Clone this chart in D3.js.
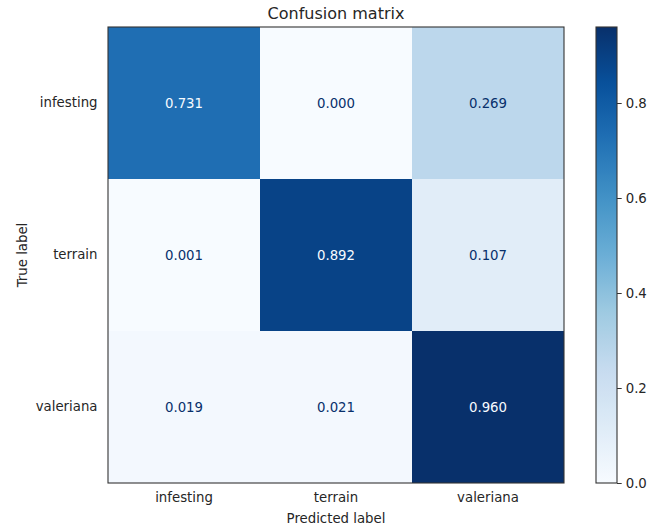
<!DOCTYPE html>
<html>
<head>
<meta charset="utf-8">
<script src="https://cdn.jsdelivr.net/npm/d3@7"></script>
<style>
  html, body { margin: 0; padding: 0; background: #fff; }
  svg { display: block; font-family: "DejaVu Sans", sans-serif; }
</style>
</head>
<body>
<svg id="chart" width="651" height="530"></svg>
<script>
// Class names shared by both axes
const predictedLabels = ["infesting", "terrain", "valeriana"];
const trueLabels = ["infesting", "terrain", "valeriana"];

// Normalized confusion matrix, one row per true class
const rowInfesting = [0.731, 0.000, 0.269];
const rowTerrain = [0.001, 0.892, 0.107];
const rowValeriana = [0.019, 0.021, 0.960];
const matrix = [rowInfesting, rowTerrain, rowValeriana];

// Colour bar tick values
const colorbarTicks = [0.0, 0.2, 0.4, 0.6, 0.8];

// Blues colour map anchors (linear segments)
const bluesAnchors = ["#f7fbff", "#deebf7", "#c6dbef", "#9ecae1", "#6baed6",
                      "#4292c6", "#2171b5", "#08519c", "#08306b"];

const svg = d3.select("#chart");

const plot = { left: 108, top: 27, size: 456 };
const cbar = { left: 596, width: 21 };

const allValues = matrix.flat();
const vmin = d3.min(allValues), vmax = d3.max(allValues);

const blues = d3.scaleLinear()
  .domain(bluesAnchors.map((_, i) => i / (bluesAnchors.length - 1)))
  .range(bluesAnchors)
  .interpolate(d3.interpolateRgb);
const color = v => blues((v - vmin) / (vmax - vmin));

const x = d3.scaleBand().domain(predictedLabels).range([plot.left, plot.left + plot.size]);
const y = d3.scaleBand().domain(trueLabels).range([plot.top, plot.top + plot.size]);

const cells = [];
matrix.forEach((row, i) => row.forEach((v, j) => cells.push({ t: trueLabels[i], p: predictedLabels[j], v })));

// Heatmap cells
svg.append("g").selectAll("rect").data(cells).join("rect")
  .attr("x", d => x(d.p))
  .attr("y", d => y(d.t))
  .attr("width", x.bandwidth())
  .attr("height", y.bandwidth())
  .attr("fill", d => color(d.v));

// Cell annotations: light text on dark cells, dark text on light cells
const threshold = (vmax + vmin) / 2;
svg.append("g").selectAll("text").data(cells).join("text")
  .attr("x", d => x(d.p) + x.bandwidth() / 2)
  .attr("y", d => y(d.t) + y.bandwidth() / 2)
  .attr("text-anchor", "middle")
  .attr("dominant-baseline", "central")
  .attr("font-size", "13.3px")
  .attr("fill", d => d.v > threshold ? bluesAnchors[0] : bluesAnchors[8])
  .text(d => d3.format(".3f")(d.v));

// Frame
svg.append("rect")
  .attr("x", plot.left).attr("y", plot.top)
  .attr("width", plot.size).attr("height", plot.size)
  .attr("fill", "none").attr("stroke", "#333").attr("stroke-width", 1.1);

// Axes
const xAxis = svg.append("g")
  .attr("transform", `translate(0,${plot.top + plot.size})`)
  .call(d3.axisBottom(x).tickSize(0).tickPadding(10));
const yAxis = svg.append("g")
  .attr("transform", `translate(${plot.left},0)`)
  .call(d3.axisLeft(y).tickSize(0).tickPadding(10.5));
[xAxis, yAxis].forEach(g => {
  g.select(".domain").remove();
  g.selectAll("text").attr("font-size", "13.3px").attr("fill", "#262626")
    .attr("font-family", "DejaVu Sans, sans-serif");
});

// Axis titles
svg.append("text")
  .attr("x", plot.left + plot.size / 2).attr("y", 523)
  .attr("text-anchor", "middle").attr("font-size", "13.3px").attr("fill", "#262626")
  .text("Predicted label");
svg.append("text")
  .attr("transform", `translate(27,${plot.top + plot.size / 2}) rotate(-90)`)
  .attr("text-anchor", "middle").attr("font-size", "13.3px").attr("fill", "#262626")
  .text("True label");

// Title
svg.append("text")
  .attr("x", plot.left + plot.size / 2).attr("y", 19)
  .attr("text-anchor", "middle").attr("font-size", "16px").attr("fill", "#262626")
  .text("Confusion matrix");

// Colour bar
const cb = d3.scaleLinear().domain([vmin, vmax]).range([plot.top + plot.size, plot.top]);
const defs = svg.append("defs");
const grad = defs.append("linearGradient").attr("id", "cbGrad")
  .attr("x1", 0).attr("y1", 1).attr("x2", 0).attr("y2", 0);
grad.selectAll("stop").data(d3.range(0, 1.0001, 0.02)).join("stop")
  .attr("offset", d => d)
  .attr("stop-color", d => blues(d));
svg.append("rect")
  .attr("x", cbar.left).attr("y", plot.top)
  .attr("width", cbar.width).attr("height", plot.size)
  .attr("fill", "url(#cbGrad)")
  .attr("stroke", "#333").attr("stroke-width", 1.1);

const cbAxis = svg.append("g")
  .attr("transform", `translate(${cbar.left + cbar.width},0)`)
  .call(d3.axisRight(cb).tickValues(colorbarTicks).tickSize(4.7).tickPadding(4).tickFormat(d3.format(".1f")));
cbAxis.select(".domain").remove();
cbAxis.selectAll("line").attr("stroke", "#333");
cbAxis.selectAll("text").attr("font-size", "13.3px").attr("fill", "#262626")
  .attr("font-family", "DejaVu Sans, sans-serif");
</script>
</body>
</html>
